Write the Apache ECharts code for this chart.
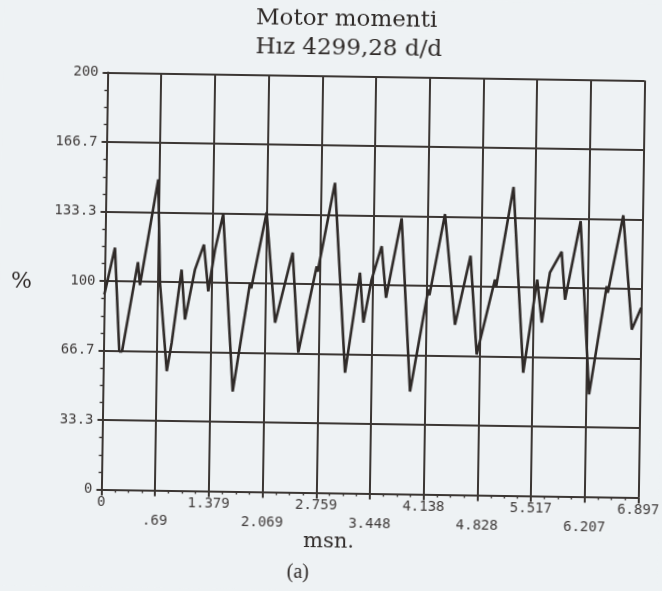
<!DOCTYPE html>
<html>
<head>
<meta charset="utf-8">
<script src="https://cdn.jsdelivr.net/npm/echarts@6/dist/echarts.min.js"></script>
<style>
  html, body { margin: 0; padding: 0; background: #eef2f4; }
  #chart {
    width: 662px; height: 591px;
    /* the plotter sheet sits slightly skewed on the page */
    transform: rotate(0.86deg);
    transform-origin: 373px 285px;
  }
</style>
</head>
<body>
<div id="chart"></div>
<script>
// Motor torque trace, time in ms and torque in % of rated
const timeMs = [
  0.000, 0.128, 0.203, 0.238, 0.426, 0.456, 0.671, 0.713, 0.816, 0.875,
  0.988, 1.040, 1.160, 1.270, 1.334, 1.413, 1.512, 1.667, 1.869, 1.885,
  2.069, 2.198, 2.411, 2.502, 2.722, 2.735, 2.941, 3.106, 3.279, 3.332,
  3.430, 3.553, 3.618, 3.804, 3.944, 4.160, 4.175, 4.360, 4.509, 4.696,
  4.793, 5.014, 5.030, 5.235, 5.394, 5.557, 5.623, 5.719, 5.865, 5.917,
  6.103, 6.244, 6.450, 6.465, 6.650, 6.780, 6.897
];
const torquePct = [
  93.5, 116.0, 66.3, 66.3, 109.3, 98.3, 149.1, 99.4, 57.2, 71.0,
  106.0, 82.1, 106.2, 118.2, 95.8, 115.8, 132.9, 47.9, 100.1, 97.5,
  134.0, 81.2, 115.0, 67.1, 108.5, 106.0, 148.7, 57.7, 105.8, 81.9,
  102.6, 118.7, 94.0, 132.2, 49.2, 98.3, 95.5, 134.5, 81.5, 114.7,
  67.4, 103.5, 100.0, 148.0, 59.0, 103.8, 83.2, 107.3, 117.3, 94.3,
  132.1, 49.1, 101.1, 98.0, 135.2, 80.5, 91.0
];

// Axis tick labels as printed by the plotter
const xTickLabels = ['0', '.69', '1.379', '2.069', '2.759', '3.448', '4.138', '4.828', '5.517', '6.207', '6.897'];
const yTickLabels = ['0', '33.3', '66.7', '100', '133.3', '166.7', '200'];

const xMax = 6.897;
const xStep = 0.6897;
const yMax = 200;
const yStep = 200 / 6;

const ink = '#2f2a28';
const gridInk = '#3b3633';
const labelInk = '#403c3b';

const chart = echarts.init(document.getElementById('chart'), null, { renderer: 'canvas' });

chart.setOption({
  backgroundColor: '#eef2f4',
  animation: false,
  title: {
    text: 'Motor momenti\nHız 4299,28 d/d',
    left: 247,
    top: 1,
    textStyle: {
      fontFamily: 'DejaVu Serif',
      fontSize: 23,
      fontWeight: 'normal',
      lineHeight: 29,
      color: ink
    }
  },
  grid: {
    left: 104.5,
    top: 76.5,
    width: 537,
    height: 417,
    outerBoundsMode: 'none'
  },
  xAxis: {
    type: 'value',
    min: 0,
    max: xMax,
    interval: xStep,
    axisLine: { lineStyle: { color: gridInk, width: 2 } },
    axisTick: { show: true, length: 6, lineStyle: { color: gridInk, width: 2 } },
    minorTick: { show: true, splitNumber: 4, length: 3, lineStyle: { color: gridInk, width: 1.4 } },
    splitLine: { show: true, lineStyle: { color: gridInk, width: 2 } },
    axisLabel: {
      margin: 4,
      fontFamily: 'DejaVu Sans Mono',
      fontSize: 14,
      lineHeight: 18,
      color: labelInk,
      showMinLabel: true,
      showMaxLabel: true,
      formatter: function (v) {
        const i = Math.round(v / xStep);
        const s = xTickLabels[i] || '';
        return i % 2 ? '\n' + s : s;
      }
    }
  },
  yAxis: {
    type: 'value',
    min: 0,
    max: yMax,
    interval: yStep,
    axisLine: { show: true, lineStyle: { color: gridInk, width: 2 } },
    axisTick: { show: true, length: 5, lineStyle: { color: gridInk, width: 2 } },
    minorTick: { show: true, splitNumber: 4, length: 3, lineStyle: { color: gridInk, width: 1.4 } },
    splitLine: { show: true, lineStyle: { color: gridInk, width: 2 } },
    axisLabel: {
      margin: 9,
      fontFamily: 'DejaVu Sans Mono',
      fontSize: 14,
      color: labelInk,
      formatter: function (v) {
        const i = Math.round(v / yStep);
        return yTickLabels[i] || '';
      }
    }
  },
  graphic: [
    {
      type: 'text', left: 11, top: 276,
      style: { text: '%', fontFamily: 'DejaVu Serif', fontSize: 22, fill: ink }
    },
    {
      type: 'text', left: 307, top: 532,
      style: { text: 'msn.', fontFamily: 'DejaVu Serif', fontSize: 21, fill: ink }
    },
    {
      type: 'text', left: 291, top: 564,
      style: { text: '(a)', fontFamily: 'Liberation Serif', fontSize: 20, fill: ink }
    }
  ],
  series: [{
    type: 'line',
    data: timeMs.map((t, i) => [t, torquePct[i]]),
    showSymbol: false,
    lineStyle: { color: ink, width: 2.6 },
    silent: true
  }]
});
</script>
</body>
</html>
